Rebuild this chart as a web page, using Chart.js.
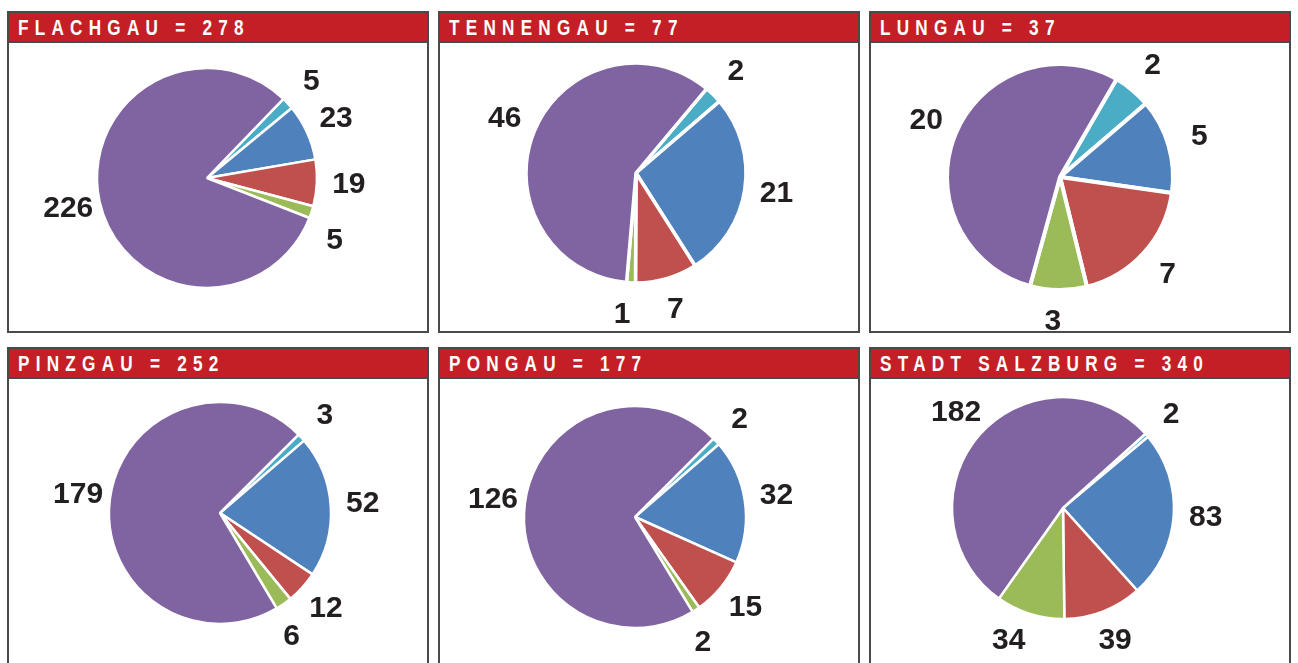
<!DOCTYPE html>
<html>
<head>
<meta charset="utf-8">
<script src="https://cdn.jsdelivr.net/npm/chart.js@4.4.1/dist/chart.umd.min.js"></script>
<style>
  body { margin: 0; background: #fff; width: 1298px; height: 663px; overflow: hidden; position: relative; }
  .panel { position: absolute; width: 418px; height: 318px; border: 2px solid #4a4a4a; background: #fff; }
  .head {
    height: 28px; background: #c41f26; border-bottom: 2px solid #4a4a4a;
    padding-left: 9px; white-space: nowrap; overflow: hidden;
  }
  .head span {
    display: inline-block; color: #fff;
    font-family: "Liberation Sans", Arial, sans-serif; font-weight: bold;
    font-size: 22px; letter-spacing: 8px; line-height: 29px;
    transform: scaleX(0.78); transform-origin: left center;
  }
  canvas { display: block; }
</style>
</head>
<body>
<script>
const regions = ["FLACHGAU", "TENNENGAU", "LUNGAU", "PINZGAU", "PONGAU", "STADT SALZBURG"];
const totals = [278, 77, 37, 252, 177, 340];
const categories = ["Kategorie 1", "Kategorie 2", "Kategorie 3", "Kategorie 4", "Kategorie 5"];
const flachgau = [5, 23, 19, 5, 226];
const tennengau = [2, 21, 7, 1, 46];
const lungau = [2, 5, 7, 3, 20];
const pinzgau = [3, 52, 12, 6, 179];
const pongau = [2, 32, 15, 2, 126];
const stadtSalzburg = [2, 83, 39, 34, 182];
const seriesValues = [flachgau, tennengau, lungau, pinzgau, pongau, stadtSalzburg];

const colors = ["#4bacc6", "#4f81bd", "#c0504d", "#9bbb59", "#8064a2"];

// panel placement and pie look
const panelLeft = [7, 438, 869];
const panelTop = [11, 347];
const canvasW = 418, canvasH = 288;
const pieCenter = [[198, 135], [196, 130], [189, 134], [211, 134], [195, 138], [192, 129]];
const pieRadius = [110, 110, 113, 111, 111, 111];
const startAngle = [44, 40, 30, 45, 45, 48];
const gapWidth = [2.5, 3.5, 4, 2.5, 2.5, 2.5];
const labelNudge = [[0, 0, 0, 8, 0], [0, 0, 0, 3, 0], [0, 0, 0, 2, 0], [0, 0, 0, 5, 0], [0, 0, 0, 5, 0], [0, 0, 0, 5, 0]];

const outsideLabels = {
  id: "outsideLabels",
  afterDatasetsDraw(chart, args, opts) {
    const ctx = chart.ctx;
    const meta = chart.getDatasetMeta(0);
    const values = chart.data.datasets[0].data;
    ctx.save();
    ctx.font = "bold 30px 'Liberation Sans', Arial, sans-serif";
    ctx.fillStyle = "#231f20";
    ctx.textAlign = "center";
    ctx.textBaseline = "middle";
    meta.data.forEach((arc, i) => {
      const p = arc.getProps(["x", "y", "startAngle", "endAngle", "outerRadius"], true);
      const mid = (p.startAngle + p.endAngle) / 2 + (opts.nudge[i] || 0) * Math.PI / 180;
      const d = p.outerRadius + opts.gap;
      ctx.fillText(String(values[i]), p.x + Math.cos(mid) * d, p.y + Math.sin(mid) * d);
    });
    ctx.restore();
  }
};

regions.forEach((name, i) => {
  const panel = document.createElement("div");
  panel.className = "panel";
  panel.style.left = panelLeft[i % 3] + "px";
  panel.style.top = panelTop[Math.floor(i / 3)] + "px";

  const head = document.createElement("div");
  head.className = "head";
  const title = document.createElement("span");
  title.textContent = name + " = " + totals[i];
  head.appendChild(title);
  panel.appendChild(head);

  const canvas = document.createElement("canvas");
  canvas.width = canvasW;
  canvas.height = canvasH;
  panel.appendChild(canvas);
  document.body.appendChild(panel);

  const [cx, cy] = pieCenter[i];
  const r = pieRadius[i];

  new Chart(canvas, {
    type: "pie",
    data: {
      labels: categories,
      datasets: [{
        data: seriesValues[i],
        backgroundColor: colors,
        borderColor: "#fff",
        borderWidth: gapWidth[i],
        radius: r
      }]
    },
    options: {
      responsive: false,
      animation: false,
      events: [],
      rotation: startAngle[i],
      layout: {
        padding: { left: cx - r, right: canvasW - cx - r, top: cy - r, bottom: canvasH - cy - r }
      },
      plugins: {
        legend: { display: false },
        tooltip: { enabled: false },
        outsideLabels: { gap: 32, nudge: labelNudge[i] }
      }
    },
    plugins: [outsideLabels]
  });
});
</script>
</body>
</html>
